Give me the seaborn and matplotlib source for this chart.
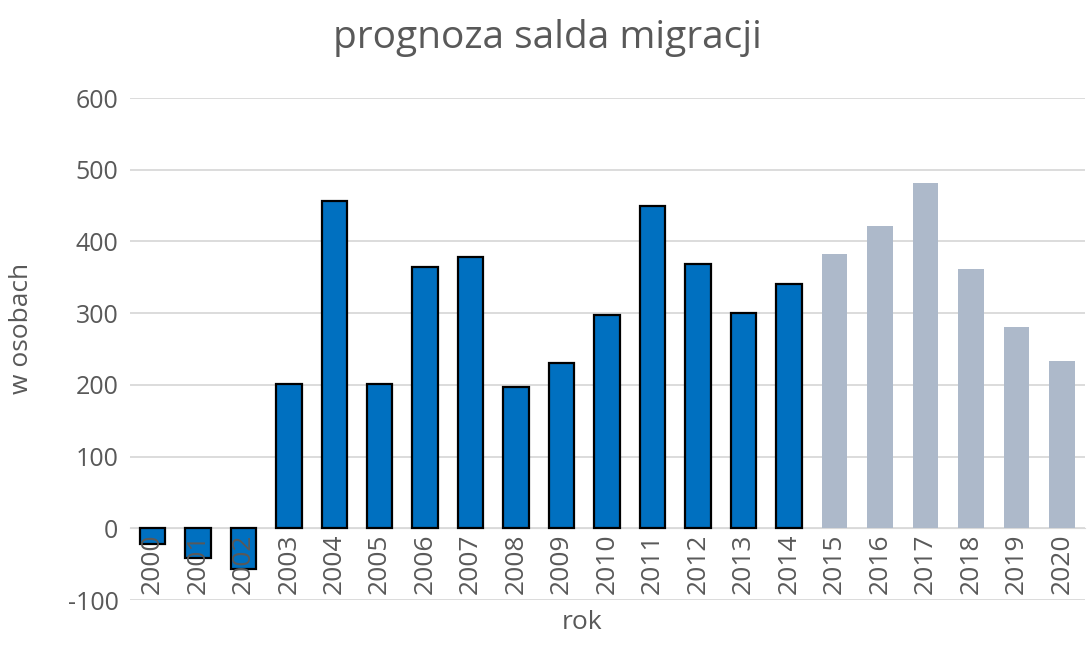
import pandas as pd
import matplotlib.pyplot as plt
import matplotlib.colors as mcolors
import seaborn as sns

# dane
lata = [str(r) for r in range(2000, 2021)]
saldo = [-22, -42, -57, 201, 456, 201, 364, 378, 197, 230, 297, 449,
         369, 300, 341, 382, 421, 481, 362, 281, 233]
typ = ["dane"] * 15 + ["prognoza"] * 6

df = pd.DataFrame({"rok": lata, "saldo": saldo, "typ": typ})

sns.set_style("white")
plt.rcParams["font.family"] = ["Open Sans", "DejaVu Sans"]
plt.rcParams["axes.unicode_minus"] = False
szary = "#595959"
niebieski = "#0070C0"

fig, ax = plt.subplots(figsize=(10.89, 6.58), dpi=100)
fig.subplots_adjust(left=0.119, right=0.996, top=0.851, bottom=0.088)

sns.barplot(data=df, x="rok", y="saldo", hue="typ",
            palette={"dane": niebieski, "prognoza": "#ADB9CA"},
            saturation=1, dodge=False, width=0.56, legend=False, ax=ax)

# czarna obwódka tylko dla danych historycznych
for patch in ax.patches:
    if mcolors.same_color(patch.get_facecolor(), niebieski):
        patch.set_edgecolor("black")
        patch.set_linewidth(1.6)
    else:
        patch.set_edgecolor("none")

ax.set_ylim(-100, 600)
ax.set_xlim(-0.5, len(lata) - 0.5)
ax.set_yticks(range(-100, 601, 100))
ax.yaxis.grid(True, color="#d9d9d9", linewidth=1.3)
ax.set_axisbelow(True)
ax.xaxis.set_zorder(3)

for s in ["top", "right", "left"]:
    ax.spines[s].set_visible(False)
ax.spines["bottom"].set_position(("data", 0))
ax.spines["bottom"].set_color("#d9d9d9")
ax.spines["bottom"].set_zorder(0.5)

ax.tick_params(axis="x", labelrotation=90, length=0, labelsize=19,
               labelcolor=szary, pad=4)
ax.tick_params(axis="y", length=0, labelsize=18, labelcolor=szary, pad=8)

ax.set_xlabel("rok", fontsize=19, color=szary)
ax.xaxis.set_label_coords(0.474, -0.02)
ax.set_ylabel("w osobach", fontsize=19, color=szary)
ax.yaxis.set_label_coords(-0.10, 0.542)
fig.suptitle("prognoza salda migracji", fontsize=28, color=szary,
             x=0.503, y=0.942, va="center")

plt.savefig("out.png", dpi=100)
